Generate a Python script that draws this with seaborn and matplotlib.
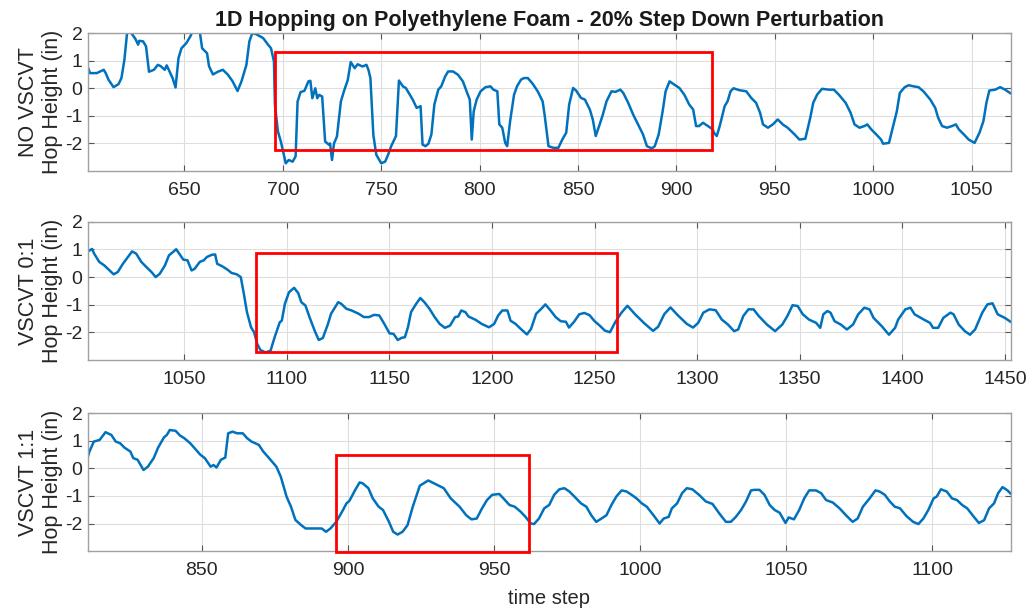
import matplotlib
matplotlib.use("Agg")
import matplotlib.pyplot as plt
import matplotlib.patches as patches
import pandas as pd
import seaborn as sns

# Panel 1: no VSCVT
p1_x = [601, 602, 605.5, 609, 610, 611.5, 614, 616.5, 618, 619.5, 621, 623, 625, 626.5, 627, 629, 630.5,
        632, 634.5, 636.5, 638, 640, 641, 642.5, 644, 645.5, 647, 648.5, 651, 653, 655, 657.5, 659, 661.5,
        662.5, 664.5, 667, 669.5, 672, 674.5, 677, 679, 681.5, 683, 684.5, 686.5, 690, 692.5, 694, 695.5,
        696, 697.5, 699, 701.5, 703, 705, 706.5, 707.5, 709, 711, 713, 714, 715, 716.5, 717.5, 718.5, 720,
        721.5, 723.5, 724, 725, 726, 727.5, 729.5, 731, 733, 734.5, 736.5, 738, 740.5, 742.5, 743.5, 744.5,
        746, 747.5, 750, 752, 753.5, 755, 757.5, 759, 761, 762.5, 764.5, 766, 768, 770, 771, 772.5, 774,
        775.5, 777, 779, 780.5, 782.5, 784, 786.5, 789, 791.5, 794, 795, 796, 797, 798.5, 800.5, 803, 805.5,
        807, 809, 810, 811.5, 813, 814, 815.5, 817.5, 819, 821, 822.5, 824.5, 827, 829.5, 832, 833, 835,
        837.5, 840, 842, 844, 845.5, 847.5, 849, 851.5, 853.5, 856, 857.5, 859, 861, 862.5, 864.5, 867, 869,
        871.5, 873, 875.5, 878, 880.5, 883, 885, 887.5, 889, 891, 893, 894.5, 896.5, 899, 901.5, 904, 906.5,
        908.5, 910, 911.5, 913.5, 916, 918.5, 919, 920.5, 922, 924.5, 926, 927.5, 929, 932, 935.5, 938,
        940.5, 942.5, 944, 946.5, 949, 951.5, 954, 956.5, 960, 962.5, 965.5, 968, 969.5, 971.5, 974, 977.5,
        980, 982.5, 986, 988.5, 990.5, 993, 995.5, 997, 999, 1001.5, 1004, 1005, 1008, 1009.5, 1012, 1013.5,
        1016, 1018, 1020.5, 1023, 1025.5, 1029, 1031.5, 1033, 1035, 1037.5, 1040, 1042, 1043.5, 1046, 1048.5,
        1051.5, 1054, 1056, 1057.5, 1059, 1062, 1064.5, 1067, 1069.5, 1071]
p1_y = [0.75, 0.55, 0.55, 0.67, 0.55, 0.3, 0.04, 0.15, 0.37, 1.03, 2.1, 2.0, 1.8, 1.58, 1.72, 1.7, 1.52,
        0.6, 0.67, 0.85, 0.8, 0.67, 0.83, 0.6, 0.37, 0.03, 1.1, 1.45, 1.64, 1.88, 2.2, 2.2, 1.45, 1.27,
        0.8, 0.5, 0.6, 0.67, 0.5, 0.25, -0.1, 0.25, 0.85, 1.7, 2.0, 1.96, 1.82, 1.58, 1.45, 0.97,
        -0.6, -1.56, -1.93, -2.72, -2.6, -2.66, -2.47, -0.48, -0.14, -0.09, 0.25, 0.27, -0.36, 0.0, -0.36, -0.24, -0.3,
        -1.93, -2.05, -2.0, -2.6, -2.0, -1.75, -0.48, -0.12, 0.3, 0.95, 0.73, 0.87, 0.79, 0.85, 0.67, 0.37,
        -1.69, -2.41, -2.72, -2.66, -2.41, -2.11, -1.73, 0.28, 0.07, 0.01, -0.23, -0.41, -0.71, -0.65, -2.04, -2.1, -2.01,
        -1.67, -0.59, -0.05, 0.07, 0.43, 0.61, 0.61, 0.49, 0.25, -0.23, -0.41, -1.86, -0.83, -0.41, -0.11, 0.04, 0.07,
        -0.05, -0.11, -1.31, -1.43, -1.98, -2.1, -1.19, -0.23, 0.07, 0.31, 0.37, 0.37, 0.16, -0.11, -0.47, -0.95, -2.1,
        -2.16, -2.16, -1.86, -1.61, -0.59, 0.01, -0.08, -0.35, -0.41, -0.77, -1.13, -1.73, -1.31, -0.98, -0.47, -0.11, -0.13,
        -0.05, -0.17, -0.53, -0.95, -1.31, -1.67, -2.1, -2.18, -2.1, -1.67, -0.83, -0.11, 0.25, 0.13, 0.01, -0.23, -0.59,
        -0.77, -1.37, -1.37, -1.25, -1.37, -1.49, -1.61, -1.73, -1.37, -0.65, -0.47, -0.11, 0.0, -0.07, -0.11, -0.35,
        -0.53, -0.89, -1.31, -1.43, -1.31, -1.13, -1.31, -1.43, -1.67, -1.86, -1.83, -1.07, -0.53, -0.23, -0.02, -0.05,
        -0.05, -0.23, -0.53, -0.89, -1.31, -1.43, -1.37, -1.31, -1.49, -1.67, -1.86, -2.01, -1.98, -1.55, -0.83, -0.17,
        0.04, 0.11, 0.07, 0.04, -0.11, -0.41, -0.71, -1.07, -1.37, -1.43, -1.37, -1.31, -1.49, -1.67, -1.86,
        -1.98, -1.61, -1.19, -0.53, -0.08, -0.05, 0.04, -0.05, -0.17, -0.23]

# Panel 2: VSCVT 0:1
p2_x = [1002, 1003, 1005, 1006, 1008.5, 1011, 1013.5, 1015.5, 1017.5, 1020, 1022.5, 1024.5, 1026.5, 1029,
        1031.5, 1034, 1036, 1038, 1040.5, 1042.5, 1044.5, 1046, 1047.5, 1049.5, 1051.5, 1053.5, 1055, 1057.5,
        1059.5, 1061, 1063.5, 1065, 1066, 1068.5, 1071, 1073, 1075.5, 1077.5, 1079, 1080.5, 1082.5, 1084,
        1085.5, 1087, 1089.5, 1092, 1094, 1096.5, 1097.5, 1099, 1101, 1103.5, 1105.5, 1107, 1109, 1111,
        1113.5, 1115.5, 1117.5, 1120, 1121.5, 1123.5, 1125, 1126.5, 1129, 1131.5, 1135, 1137.5, 1140, 1142.5,
        1145, 1147.5, 1150, 1152, 1154, 1156, 1157.5, 1159, 1160.5, 1163, 1165, 1167, 1169.5, 1172, 1174.5,
        1177, 1179.5, 1182, 1183.5, 1185, 1187, 1188.5, 1192, 1195, 1198.5, 1201, 1203, 1205, 1207.5, 1209,
        1211.5, 1214, 1217, 1219, 1221.5, 1224, 1226, 1228.5, 1231, 1233.5, 1236, 1237.5, 1240, 1242.5, 1245,
        1247.5, 1250, 1252.5, 1255, 1257.5, 1260, 1263, 1266, 1269.5, 1274, 1278.5, 1281, 1284, 1287, 1290.5,
        1295, 1298, 1300.5, 1303, 1306, 1309, 1312, 1315, 1318, 1320, 1322.5, 1325, 1327.5, 1330, 1334, 1338,
        1341.5, 1344, 1346.5, 1349, 1351.5, 1354.5, 1358, 1360, 1361.5, 1363.5, 1365, 1367, 1370, 1373, 1376,
        1378.5, 1381.5, 1384, 1386, 1390, 1393.5, 1396.5, 1398, 1401.5, 1404, 1406, 1410.5, 1413.5, 1415,
        1417.5, 1420, 1423.5, 1425, 1427.5, 1430.5, 1433, 1435.5, 1439, 1441.5, 1444, 1446.5, 1450, 1453]
p2_y = [0.87, 0.93, 1.02, 0.85, 0.55, 0.42, 0.24, 0.1, 0.18, 0.48, 0.73, 0.93, 0.85, 0.55,
        0.36, 0.18, 0.0, 0.12, 0.42, 0.79, 0.91, 1.01, 0.85, 0.63, 0.61, 0.24, 0.3, 0.55,
        0.61, 0.73, 0.81, 0.82, 0.48, 0.39, 0.27, 0.15, 0.1, 0.0, -0.61, -1.27, -1.82, -2.0,
        -2.42, -2.64, -2.73, -2.67, -2.18, -1.64, -1.58, -0.97, -0.55, -0.39, -0.58, -0.91, -1.03, -1.45,
        -1.94, -2.28, -2.21, -1.7, -1.33, -1.09, -0.91, -0.97, -1.15, -1.21, -1.33, -1.45, -1.45, -1.37,
        -1.39, -1.7, -2.04, -2.06, -2.28, -2.2, -2.18, -1.82, -1.27, -0.97, -0.76, -0.91, -1.15, -1.45, -1.7,
        -1.84, -1.76, -1.45, -1.43, -1.21, -1.27, -1.43, -1.55, -1.7, -1.82, -1.7, -1.39, -1.21, -1.21, -1.58,
        -1.7, -1.88, -2.08, -1.88, -1.33, -1.15, -0.99, -1.21, -1.45, -1.6, -1.62, -1.83, -1.62, -1.35, -1.3,
        -1.38, -1.6, -1.76, -1.94, -2.0, -1.64, -1.3, -1.04, -1.33, -1.66, -1.95, -1.8, -1.34, -1.1, -1.38,
        -1.7, -1.83, -1.66, -1.29, -1.17, -1.2, -1.54, -1.72, -1.96, -1.9, -1.41, -1.17, -1.17, -1.41, -1.72, -1.96,
        -1.72, -1.41, -1.02, -1.05, -1.35, -1.54, -1.66, -1.84, -1.35, -1.23, -1.29, -1.6, -1.72, -1.9, -1.72,
        -1.35, -1.11, -1.17, -1.48, -1.78, -2.09, -1.84, -1.54, -1.17, -1.11, -1.35, -1.54, -1.66, -1.84,
        -1.84, -1.48, -1.29, -1.35, -1.72, -1.96, -2.09, -1.9, -1.29, -0.99, -0.95, -1.35, -1.48, -1.63]

# Panel 3: VSCVT 1:1
p3_x = [810, 811.5, 813, 815, 817, 819, 820.5, 822, 823.5, 825.5, 826.5, 828, 830, 831.5, 833.5, 835, 837,
        838, 839, 841, 842.5, 844, 846, 847.5, 849.5, 851, 853, 854, 855, 856.5, 858, 859, 860.5, 862, 864,
        865.5, 867, 869.5, 871, 873, 875.5, 877, 879, 880.5, 882, 884, 885.5, 888, 891, 892.5, 894, 896, 898,
        899.5, 900.5, 902.5, 904, 905, 907, 908.5, 910.5, 912, 914, 915.5, 917, 918.7, 920.4, 922.2, 924.6,
        927.5, 930.5, 932.8, 935.2, 938.2, 940.5, 942.3, 944.1, 945.9, 947.6, 949.4, 951.8, 953.5, 955.3,
        957.1, 959.1, 960.8, 962.6, 963.7, 965.4, 967.2, 968.9, 970.6, 972.4, 974.1, 975.8, 977.5, 979.8,
        981.6, 983.3, 985, 986.8, 988.5, 990.2, 991.9, 993.7, 995.4, 997.1, 998.8, 1000.6, 1002.3, 1004.6,
        1006.7, 1008.1, 1009.8, 1010.9, 1012.7, 1014.4, 1016, 1017.9, 1020.2, 1022.5, 1024.8, 1027.1, 1029.4,
        1031.1, 1032.8, 1034.6, 1036.3, 1038, 1039.2, 1040.9, 1042.6, 1044.4, 1046.1, 1047.8, 1049.8, 1050.9,
        1052.7, 1054.5, 1056.2, 1057.9, 1060.2, 1062, 1063.7, 1066, 1068.3, 1070.5, 1072.8, 1074.5, 1076.3,
        1078.6, 1080.6, 1082, 1083.8, 1085.5, 1087.2, 1089, 1091.2, 1093.5, 1095.3, 1097, 1098.7, 1100.5,
        1101.6, 1103, 1105, 1106.8, 1108.5, 1110.3, 1112, 1114.3, 1116, 1117.8, 1119.5, 1121.2, 1122.6,
        1124.1, 1125.8, 1127]
p3_y = [0.06, 0.61, 0.97, 1.03, 1.31, 1.21, 0.97, 0.91, 0.75, 0.61, 0.37, 0.31, -0.06, 0.06, 0.37, 0.75, 1.12,
        1.21, 1.39, 1.36, 1.19, 1.09, 0.91, 0.73, 0.49, 0.37, 0.06, 0.12, 0.03, 0.31, 0.39, 1.27, 1.33, 1.27, 1.27,
        1.09, 0.97, 0.85, 0.61, 0.37, 0.06, -0.3, -1.03, -1.39, -1.87, -2.06, -2.18, -2.18, -2.18, -2.3, -2.18, -1.94, -1.57,
        -1.27, -1.18, -0.78, -0.51, -0.54, -0.72, -1.09, -1.39, -1.51, -1.93, -2.3, -2.4, -2.3, -2.06, -1.39, -0.63,
        -0.44, -0.6, -0.72, -1.09, -1.39, -1.7, -1.85, -1.82, -1.45, -1.15, -0.96, -0.93, -1.12, -1.33,
        -1.39, -1.57, -1.76, -2.0, -2.02, -1.82, -1.45, -1.33, -0.96, -0.76, -0.72, -0.84, -1.02, -1.27,
        -1.39, -1.7, -1.94, -1.82, -1.7, -1.33, -1.02, -0.8, -0.84, -0.96, -1.09, -1.27, -1.39, -1.7,
        -2.0, -1.82, -1.76, -1.45, -1.27, -0.9, -0.72, -0.76, -0.96, -1.2, -1.29, -1.63, -1.94,
        -1.94, -1.76, -1.51, -1.2, -0.8, -0.78, -0.78, -0.96, -1.33, -1.51, -1.61, -1.98, -1.78,
        -1.85, -1.51, -1.09, -0.8, -0.8, -0.9, -1.15, -1.24, -1.45, -1.7, -1.94, -1.82, -1.39,
        -1.09, -0.8, -0.84, -0.96, -1.2, -1.39, -1.45, -1.73, -1.94, -2.02, -1.82, -1.51, -1.09,
        -1.02, -0.76, -0.84, -1.09, -1.15, -1.33, -1.45, -1.76, -1.98, -1.88, -1.45, -1.27, -0.9,
        -0.68, -0.8, -0.93]

panel_names = ["NO VSCVT", "VSCVT 0:1", "VSCVT 1:1"]
x_limits = [(601, 1070), (1003, 1453), (811, 1127)]
x_ticks = [list(range(650, 1051, 50)), list(range(1050, 1451, 50)), list(range(850, 1101, 50))]
# highlighted windows: (x0, x1, y0, y1)
boxes = [(696, 918, -2.25, 1.3), (1085, 1261, -2.72, 0.87), (896, 962, -3.05, 0.5)]

sns.set_style("ticks")
plt.rcParams["font.family"] = ["Liberation Sans", "DejaVu Sans"]
plt.rcParams["axes.unicode_minus"] = False

fig = plt.figure(figsize=(10.29, 6.13), dpi=100)
bottoms = [0.721, 0.413, 0.101]
height = 0.225
series = [(p1_x, p1_y), (p2_x, p2_y), (p3_x, p3_y)]

for i, (xs, ys) in enumerate(series):
    ax = fig.add_axes([0.0855, bottoms[i], 0.897, height])
    df = pd.DataFrame({"t": xs, "h": ys})
    sns.lineplot(data=df, x="t", y="h", ax=ax, color="#0072BD", linewidth=1.8)
    ax.set_xlim(*x_limits[i])
    ax.set_ylim(-3, 2)
    ax.set_xticks(x_ticks[i])
    ax.set_yticks([-2, -1, 0, 1, 2])
    ax.grid(True, color="#dedede", linewidth=0.8)
    ax.tick_params(direction="in", top=True, right=True, length=4,
                   color="#555555", labelcolor="#262626", labelsize=14)
    ax.tick_params(axis="x", pad=8)
    ax.tick_params(axis="y", pad=4)
    for s in ax.spines.values():
        s.set_color("#a0a0a0")
        s.set_linewidth(1.0)
    ax.set_ylabel(panel_names[i] + "\nHop Height (in)", fontsize=15.5, color="#262626")
    ax.yaxis.set_label_coords(-0.027, 0.5)
    if i == 2:
        ax.set_xlabel("time step", fontsize=14.5, color="#262626", labelpad=7)
    else:
        ax.set_xlabel("")
    x0, x1, y0, y1 = boxes[i]
    ax.add_patch(patches.Rectangle((x0, y0), x1 - x0, y1 - y0, fill=False,
                                   edgecolor="#ff0000", linewidth=2.0, clip_on=False, zorder=5))
    if i == 0:
        ax.set_title("1D Hopping on Polyethylene Foam - 20% Step Down Perturbation",
                     fontsize=15.5, fontweight="bold", color="#1a1a1a", pad=5)

fig.savefig("out.png", dpi=100)
